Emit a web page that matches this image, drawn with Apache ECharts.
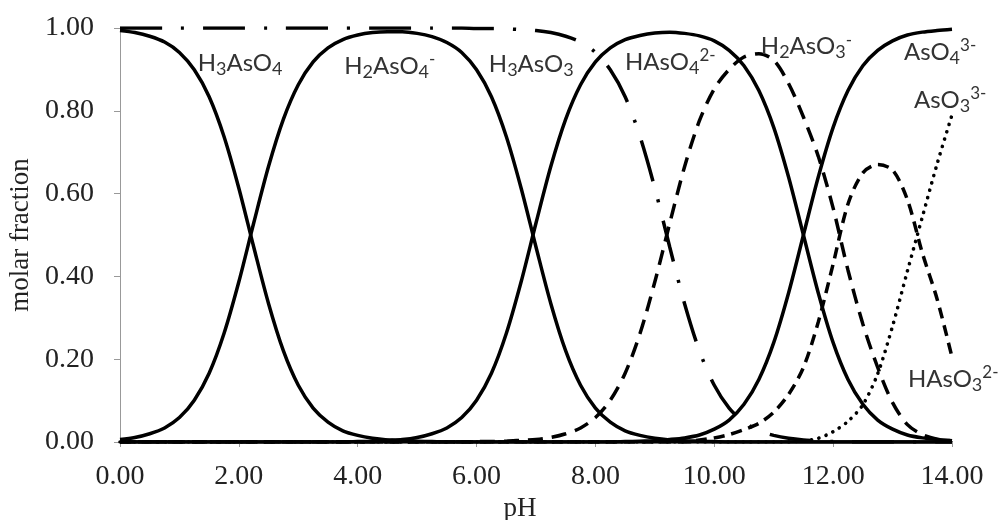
<!DOCTYPE html>
<html>
<head>
<meta charset="utf-8">
<script src="https://cdn.jsdelivr.net/npm/echarts@6/dist/echarts.min.js"></script>
<style>
  html, body { margin: 0; padding: 0; background: #ffffff; }
  #chart { width: 1000px; height: 520px; }
</style>
</head>
<body>
<div id="chart"></div>
<script>
// pH grid (x values)
const pH = [0, 0.25, 0.5, 0.75, 1, 1.25, 1.5, 1.75, 2, 2.25, 2.5, 2.75, 3, 3.25, 3.5, 3.75,
  4, 4.25, 4.5, 4.75, 5, 5.25, 5.5, 5.75, 6, 6.25, 6.5, 6.75, 7, 7.25, 7.5, 7.75,
  8, 8.25, 8.5, 8.75, 9, 9.25, 9.5, 9.75, 10, 10.25, 10.5, 10.75, 11, 11.25, 11.5, 11.75,
  12, 12.25, 12.5, 12.75, 13, 13.25, 13.5, 13.75, 14];

// Arsenate species (solid lines)
const H3AsO4 = [0.994, 0.989, 0.980, 0.966, 0.941, 0.899, 0.834, 0.738, 0.613, 0.471, 0.334, 0.220, 0.137, 0.082, 0.048, 0.027,
  0.016, 0.009, 0.005, 0.003, 0.002, 0.001, 0, 0, 0, 0, 0, 0, 0, 0, 0, 0,
  0, 0, 0, 0, 0, 0, 0, 0, 0, 0, 0, 0, 0, 0, 0, 0,
  0, 0, 0, 0, 0, 0, 0, 0, 0];
const H2AsO4 = [0.006, 0.011, 0.020, 0.034, 0.059, 0.101, 0.166, 0.262, 0.387, 0.529, 0.666, 0.780, 0.863, 0.918, 0.952, 0.972,
  0.983, 0.989, 0.991, 0.991, 0.987, 0.979, 0.965, 0.941, 0.899, 0.834, 0.738, 0.613, 0.471, 0.334, 0.220, 0.137,
  0.082, 0.048, 0.027, 0.016, 0.009, 0.005, 0.003, 0.002, 0.001, 0, 0, 0, 0, 0, 0, 0,
  0, 0, 0, 0, 0, 0, 0, 0, 0];
const HAsO4 = [0, 0, 0, 0, 0, 0, 0, 0, 0, 0, 0, 0, 0, 0, 0, 0,
  0.001, 0.002, 0.004, 0.006, 0.011, 0.020, 0.034, 0.059, 0.101, 0.166, 0.262, 0.387, 0.529, 0.666, 0.780, 0.863,
  0.918, 0.952, 0.972, 0.982, 0.988, 0.990, 0.987, 0.981, 0.969, 0.946, 0.909, 0.849, 0.760, 0.640, 0.500, 0.360,
  0.240, 0.151, 0.091, 0.053, 0.031, 0.017, 0.010, 0.006, 0.003];
const AsO4 = [0, 0, 0, 0, 0, 0, 0, 0, 0, 0, 0, 0, 0, 0, 0, 0,
  0, 0, 0, 0, 0, 0, 0, 0, 0, 0, 0, 0, 0, 0, 0, 0,
  0, 0, 0.001, 0.002, 0.003, 0.006, 0.010, 0.017, 0.031, 0.053, 0.091, 0.151, 0.240, 0.360, 0.500, 0.640,
  0.760, 0.849, 0.909, 0.946, 0.969, 0.983, 0.990, 0.994, 0.997];

// Arsenite species (broken lines)
const H3AsO3 = [1, 1, 1, 1, 1, 1, 1, 1, 1, 1, 1, 1, 1, 1, 1, 1,
  1, 1, 1, 1, 1, 1, 1, 1, 0.999, 0.999, 0.998, 0.996, 0.994, 0.989, 0.980, 0.966,
  0.941, 0.899, 0.834, 0.738, 0.613, 0.471, 0.334, 0.220, 0.137, 0.082, 0.048, 0.027, 0.016, 0.009, 0.005, 0.003,
  0.001, 0, 0, 0, 0, 0, 0, 0, 0];
const H2AsO3 = [0, 0, 0, 0, 0, 0, 0, 0, 0, 0, 0, 0, 0, 0, 0, 0,
  0, 0, 0, 0, 0, 0, 0, 0, 0.001, 0.001, 0.002, 0.004, 0.006, 0.011, 0.020, 0.034,
  0.059, 0.101, 0.166, 0.262, 0.387, 0.528, 0.665, 0.776, 0.853, 0.900, 0.930, 0.938, 0.922, 0.866, 0.785, 0.690,
  0.565, 0.415, 0.285, 0.180, 0.095, 0.042, 0.018, 0.007, 0.003];
const HAsO3 = [0, 0, 0, 0, 0, 0, 0, 0, 0, 0, 0, 0, 0, 0, 0, 0,
  0, 0, 0, 0, 0, 0, 0, 0, 0, 0, 0, 0, 0, 0, 0, 0,
  0, 0, 0, 0, 0, 0, 0, 0.005, 0.010, 0.018, 0.030, 0.045, 0.072, 0.115, 0.180, 0.290,
  0.430, 0.575, 0.650, 0.670, 0.657, 0.585, 0.457, 0.345, 0.205];
const AsO3 = [0, 0, 0, 0, 0, 0, 0, 0, 0, 0, 0, 0, 0, 0, 0, 0,
  0, 0, 0, 0, 0, 0, 0, 0, 0, 0, 0, 0, 0, 0, 0, 0,
  0, 0, 0, 0, 0, 0, 0, 0, 0, 0, 0, 0, 0, 0, 0.003, 0.009,
  0.025, 0.050, 0.090, 0.165, 0.280, 0.413, 0.543, 0.672, 0.790];

// Axis ticks
const xTicks = [0, 2, 4, 6, 8, 10, 12, 14];
const yTicks = [0, 0.2, 0.4, 0.6, 0.8, 1.0];

// Species labels: rich text, anchored in data coordinates (pH, fraction)
const speciesLabels = [
  { text: '{m|H}{sub|3}{m|AsO}{sub|4}', at: [2.02, 0.915] },
  { text: '{m|H}{sub|2}{m|AsO}{sub|4}{sup|-}', at: [4.54, 0.908] },
  { text: '{m|H}{sub|3}{m|AsO}{sub|3}', at: [6.92, 0.912] },
  { text: '{m|HAsO}{sub|4}{sup|2-}', at: [9.26, 0.917] },
  { text: '{m|H}{sub|2}{m|AsO}{sub|3}{sup|-}', at: [11.55, 0.955] },
  { text: '{m|AsO}{sub|4}{sup|3-}', at: [13.8, 0.942] },
  { text: '{m|AsO}{sub|3}{sup|3-}', at: [13.97, 0.826] },
  { text: '{m|HAsO}{sub|3}{sup|2-}', at: [14.02, 0.152] }
];

function pairs(ys) { return pH.map((x, i) => [x, ys[i]]); }

const serif = 'Liberation Serif';
const labelFont = 'Lato';
const ink = '#000000';

function solid(name, ys) {
  return { name, type: 'line', data: pairs(ys), showSymbol: false, smooth: 0.3,
    lineStyle: { color: ink, width: 3.5, type: 'solid' }, z: 5 };
}
function broken(name, ys, dash, cap, width) {
  return { name, type: 'line', data: pairs(ys), showSymbol: false, smooth: 0.3,
    lineStyle: { color: ink, width: width || 3.5, type: dash, cap: cap || 'butt' }, z: 3 };
}

const chart = echarts.init(document.getElementById('chart'), null, { renderer: 'canvas' });

chart.setOption({
  animation: false,
  backgroundColor: '#ffffff',
  grid: { left: 120, right: 48, top: 28, bottom: 78, containLabel: false, outerBoundsMode: 'none' },
  xAxis: {
    type: 'value', min: xTicks[0], max: xTicks[xTicks.length - 1], interval: 2,
    name: 'pH', nameLocation: 'middle', nameGap: 46,
    nameTextStyle: { fontFamily: serif, fontSize: 27, color: '#222', padding: [0, 32, 0, 0] },
    axisLine: { show: true, lineStyle: { color: '#333', width: 2 } },
    axisTick: { show: true, inside: false, length: 5, lineStyle: { color: '#999' } },
    splitLine: { show: false },
    axisLabel: { fontFamily: serif, fontSize: 28, color: '#222', margin: 21,
      formatter: v => v.toFixed(2) }
  },
  yAxis: {
    type: 'value', min: yTicks[0], max: yTicks[yTicks.length - 1], interval: 0.2,
    name: 'molar fraction', nameLocation: 'middle', nameGap: 86,
    nameTextStyle: { fontFamily: serif, fontSize: 27, color: '#222' },
    axisLine: { show: true, lineStyle: { color: '#999', width: 1 } },
    axisTick: { show: true, inside: false, length: 6, lineStyle: { color: '#999' } },
    splitLine: { show: false },
    axisLabel: { fontFamily: serif, fontSize: 28, color: '#222', margin: 26,
      formatter: v => v.toFixed(2) }
  },
  series: [
    broken('H3AsO3', H3AsO3, [42, 19, 3, 19]),
    broken('H2AsO3-', H2AsO3, [15, 9]),
    broken('HAsO3 2-', HAsO3, [11, 7]),
    broken('AsO3 3-', AsO3, [0.1, 7.5], 'round', 3.6),
    solid('H3AsO4', H3AsO4),
    solid('H2AsO4-', H2AsO4),
    solid('HAsO4 2-', HAsO4),
    solid('AsO4 3-', AsO4)
  ]
});

const rich = {
  m: { fontFamily: labelFont, fontSize: 24, lineHeight: 30, verticalAlign: 'middle', fill: '#333', color: '#333' },
  sub: { fontFamily: labelFont, fontSize: 18, lineHeight: 17, verticalAlign: 'bottom', fill: '#333', color: '#333' },
  sup: { fontFamily: labelFont, fontSize: 17, lineHeight: 20, verticalAlign: 'top', fill: '#333', color: '#333' }
};

chart.setOption({
  graphic: speciesLabels.map(l => {
    const p = chart.convertToPixel({ gridIndex: 0 }, l.at);
    return { type: 'text', x: p[0], y: p[1], z: 10,
      style: { text: l.text, rich, align: 'center', verticalAlign: 'middle', fill: '#333' } };
  })
});
</script>
</body>
</html>
